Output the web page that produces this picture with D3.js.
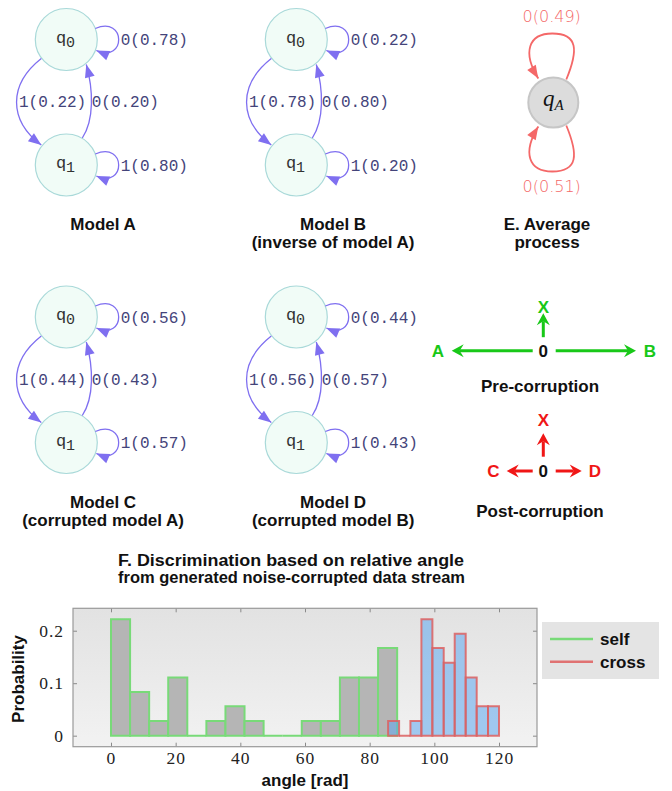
<!DOCTYPE html>
<html>
<head>
<meta charset="utf-8">
<script src="https://cdn.jsdelivr.net/npm/d3@7"></script>
<style>
  body { margin: 0; background: #fff; }
</style>
</head>
<body>
<div id="fig"></div>
<script>
// ---- data ----
const modelNames = ["Model A", "Model B", "Model C", "Model D"];
const modelSubtitles = ["", "(inverse of model A)", "(corrupted model A)", "(corrupted model B)"];
const loop0Labels = ["0(0.78)", "0(0.22)", "0(0.56)", "0(0.44)"];
const edge01Labels = ["1(0.22)", "1(0.78)", "1(0.44)", "1(0.56)"];
const edge10Labels = ["0(0.20)", "0(0.80)", "0(0.43)", "0(0.57)"];
const loop1Labels = ["1(0.80)", "1(0.20)", "1(0.57)", "1(0.43)"];

const avgLoopLabels = ["0(0.49)", "0(0.51)"];

const histTitle = ["F. Discrimination based on relative angle", "from generated noise-corrupted data stream"];
const selfEdges = [0, 5.9, 11.8, 17.7, 23.6, 29.5, 35.4, 41.3, 47.2, 53.1, 59, 64.9, 70.8, 76.7, 82.6, 88.5];
const selfProb = [0.222, 0.083, 0.028, 0.111, 0, 0.028, 0.056, 0.028, 0, 0, 0.028, 0.028, 0.111, 0.111, 0.167];
const crossEdges = [85.7, 89.1, 92.6, 96.0, 99.4, 102.9, 106.3, 109.7, 113.1, 116.6, 120];
const crossProb = [0.028, 0, 0.028, 0.222, 0.167, 0.139, 0.194, 0.111, 0.056, 0.056];
const xTicks = [0, 20, 40, 60, 80, 100, 120];
const yTicks = [0, 0.1, 0.2];
const legendLabels = ["self", "cross"];

const W = 672, H = 791;
const edgeColor = "#7f6ff0";
const labelColor = "#44447a";
const avgColor = "#f46868";
const green = "#18c818";
const red = "#f01616";

const svg = d3
  .select("#fig")
  .append("svg")
  .attr("width", W)
  .attr("height", H)
  .style("font-family", "'Liberation Sans', Arial, sans-serif");

svg.append("rect").attr("width", W).attr("height", H).attr("fill", "#fff");

const defs = svg.append("defs");

function triMarker(id, color) {
  defs
    .append("marker")
    .attr("id", id)
    .attr("viewBox", "-14 -6 15 12")
    .attr("refX", 0)
    .attr("refY", 0)
    .attr("markerWidth", 15)
    .attr("markerHeight", 12)
    .attr("markerUnits", "userSpaceOnUse")
    .attr("orient", "auto")
    .append("path")
    .attr("d", "M-13,-5L0,0L-13,5Z")
    .attr("fill", color);
}
function stealthMarker(id, color) {
  defs
    .append("marker")
    .attr("id", id)
    .attr("viewBox", "-14 -8 15 16")
    .attr("refX", -8)
    .attr("refY", 0)
    .attr("markerWidth", 15)
    .attr("markerHeight", 16)
    .attr("markerUnits", "userSpaceOnUse")
    .attr("orient", "auto")
    .append("path")
    .attr("d", "M0,0L-12,-6.5L-8,0L-12,6.5Z")
    .attr("fill", color);
}
triMarker("arrEdge", edgeColor);
triMarker("arrAvg", avgColor);
stealthMarker("arrGreen", green);
stealthMarker("arrRed", red);

// ---- two-state machines A-D ----
const modelOrigins = [
  [66.3, 39.5],
  [296.3, 39.5],
  [66.3, 317],
  [296.3, 317],
];
const gap = 125.5;
const stateR = 31;

modelNames.forEach((name, i) => {
  const [ox, oy] = modelOrigins[i];
  const g = svg.append("g").attr("transform", "translate(" + ox + "," + oy + ")");

  [0, 1].forEach((s) => {
    g.append("circle")
      .attr("cx", 0)
      .attr("cy", s * gap)
      .attr("r", stateR)
      .attr("fill", "#f1fcf7")
      .attr("stroke", "#a9d9d9")
      .attr("stroke-width", 1.2);
    const t = g
      .append("text")
      .attr("x", -0.8)
      .attr("y", s * gap + 3)
      .attr("text-anchor", "middle")
      .attr("fill", "#333")
      .style("font-family", "'Liberation Mono', 'Courier New', monospace");
    t.append("tspan").style("font-size", "17px").text("q");
    t.append("tspan").attr("dy", 4).style("font-size", "15px").text(s);
  });

  const edges = [
    { d: "M29,-11C60,-24 60,24 30,11", label: loop0Labels[i], lx: 54.4, ly: 5.5 },
    { d: "M29," + (gap - 11) + "C60," + (gap - 24) + " 60," + (gap + 24) + " 30," + (gap + 11), label: loop1Labels[i], lx: 54.4, ly: gap + 5.5 },
    { d: "M-25,19C-58,45 -58," + (gap - 45) + " -25," + (gap - 20), label: edge01Labels[i], lx: -47.3, ly: gap / 2 + 5 },
    { d: "M16," + (gap - 27) + "C28," + (gap - 45) + " 27,50 20,25", label: edge10Labels[i], lx: 25.4, ly: gap / 2 + 5 },
  ];

  g.selectAll("path.edge")
    .data(edges)
    .join("path")
    .attr("class", "edge")
    .attr("d", (e) => e.d)
    .attr("fill", "none")
    .attr("stroke", edgeColor)
    .attr("stroke-width", 1.3)
    .attr("marker-end", "url(#arrEdge)");

  g.selectAll("text.lbl")
    .data(edges)
    .join("text")
    .attr("class", "lbl")
    .attr("x", (e) => e.lx)
    .attr("y", (e) => e.ly)
    .attr("fill", labelColor)
    .style("font-family", "'Liberation Mono', 'Courier New', monospace")
    .style("font-size", "16px")
    .text((e) => e.label);

  [name, modelSubtitles[i]].forEach((line, k) => {
    g.append("text")
      .attr("x", 36.8)
      .attr("y", 190.5 + k * 18)
      .attr("text-anchor", "middle")
      .style("font-size", "17px")
      .style("font-weight", "bold")
      .attr("fill", "#111")
      .text(line);
  });
});

// ---- E. average process ----
const ex = 553.3, ey = 102.5;
const eg = svg.append("g").attr("transform", "translate(" + ex + "," + ey + ")");
const avgLoops = [
  { d: "M13,-23C25,-52 25,-69 -1,-69C-25,-69 -31,-50 -15,-24", label: avgLoopLabels[0], ly: -80.5 },
  { d: "M13,23C25,52 25,69 -1,69C-25,69 -31,50 -15,24", label: avgLoopLabels[1], ly: 89.5 },
];
eg.selectAll("path")
  .data(avgLoops)
  .join("path")
  .attr("d", (l) => l.d)
  .attr("fill", "none")
  .attr("stroke", avgColor)
  .attr("stroke-width", 1.8)
  .attr("marker-end", "url(#arrAvg)");
eg.selectAll("text.lbl")
  .data(avgLoops)
  .join("text")
  .attr("class", "lbl")
  .attr("x", -1.6)
  .attr("y", (l) => l.ly)
  .attr("text-anchor", "middle")
  .attr("fill", avgColor)
  .style("font-family", "'DejaVu Sans', sans-serif")
  .style("font-weight", "300")
  .style("font-size", "16px")
  .text((l) => l.label);
eg.append("circle")
  .attr("r", 25)
  .attr("fill", "#dcdcdc")
  .attr("stroke", "#c6c6c6")
  .attr("stroke-width", 2);
const qa = eg
  .append("text")
  .attr("x", 0)
  .attr("y", 3)
  .attr("text-anchor", "middle")
  .attr("fill", "#111")
  .style("font-family", "'Liberation Serif', 'Times New Roman', serif")
  .style("font-style", "italic");
qa.append("tspan").style("font-size", "23px").text("q");
qa.append("tspan").attr("dy", 4).style("font-size", "15px").text("A");
["E. Average", "process"].forEach((line, k) => {
  svg.append("text")
    .attr("x", 547)
    .attr("y", 229.5 + k * 18)
    .attr("text-anchor", "middle")
    .style("font-size", "17px")
    .style("font-weight", "bold")
    .attr("fill", "#111")
    .text(line);
});

// ---- pre / post corruption symbol maps ----
const symbolPanels = [
  {
    cy: 350.7, color: green, marker: "url(#arrGreen)", title: "Pre-corruption", ty: 391.5,
    arms: [
      { label: "X", x0: 0, y0: -13.5, x1: 0, y1: -29.5, lx: 0, ly: -44 },
      { label: "B", x0: 12.4, y0: 0, x1: 84.7, y1: 0, lx: 106.7, ly: 0 },
      { label: "A", x0: -10.6, y0: 0, x1: -83.6, y1: 0, lx: -105.5, ly: 0 },
    ],
  },
  {
    cy: 471, color: red, marker: "url(#arrRed)", title: "Post-corruption", ty: 517,
    arms: [
      { label: "X", x0: 0, y0: -14.3, x1: 0, y1: -29.7, lx: 0, ly: -51 },
      { label: "D", x0: 12.4, y0: 0, x1: 30.4, y1: 0, lx: 51.7, ly: 0 },
      { label: "C", x0: -10.6, y0: 0, x1: -28.6, y1: 0, lx: -50, ly: 0 },
    ],
  },
];
symbolPanels.forEach((p) => {
  const g = svg.append("g").attr("transform", "translate(543.3," + p.cy + ")");
  g.selectAll("line")
    .data(p.arms)
    .join("line")
    .attr("x1", (a) => a.x0)
    .attr("y1", (a) => a.y0)
    .attr("x2", (a) => a.x1)
    .attr("y2", (a) => a.y1)
    .attr("stroke", p.color)
    .attr("stroke-width", 3)
    .attr("marker-end", p.marker);
  g.selectAll("text.arm")
    .data(p.arms)
    .join("text")
    .attr("class", "arm")
    .attr("x", (a) => a.lx)
    .attr("y", (a) => a.ly + 6.2)
    .attr("text-anchor", "middle")
    .attr("fill", p.color)
    .style("font-size", "17px")
    .style("font-weight", "bold")
    .text((a) => a.label);
  g.append("text")
    .attr("x", 0)
    .attr("y", 6.2)
    .attr("text-anchor", "middle")
    .attr("fill", "#111")
    .style("font-size", "17px")
    .style("font-weight", "bold")
    .text("0");
  svg.append("text")
    .attr("x", 540)
    .attr("y", p.ty)
    .attr("text-anchor", "middle")
    .attr("fill", "#111")
    .style("font-size", "17px")
    .style("font-weight", "bold")
    .text(p.title);
});

// ---- F. histogram ----
const titleWidths = [346, 347];
histTitle.forEach((line, k) => {
  svg.append("text")
    .attr("x", 118)
    .attr("y", 566 + k * 16.5)
    .attr("fill", "#111")
    .attr("textLength", titleWidths[k])
    .attr("lengthAdjust", "spacingAndGlyphs")
    .style("font-size", "16px")
    .style("font-weight", "bold")
    .text(line);
});

const x = d3.scaleLinear().domain([-11.75, 131.75]).range([73, 537]);
const y = d3.scaleLinear().domain([-0.021, 0.2427]).range([746.7, 608.3]);

const grad = defs
  .append("linearGradient")
  .attr("id", "plotBg")
  .attr("x1", 0).attr("y1", 0).attr("x2", 0).attr("y2", 1);
grad.append("stop").attr("offset", 0).attr("stop-color", "#e2e2e2");
grad.append("stop").attr("offset", 1).attr("stop-color", "#f2f2f2");

svg.append("rect")
  .attr("x", x.range()[0])
  .attr("y", y.range()[1])
  .attr("width", x.range()[1] - x.range()[0])
  .attr("height", y.range()[0] - y.range()[1])
  .attr("fill", "url(#plotBg)");

function barPath(b) {
  return "M" + x(b.x0) + "," + y(0) + "V" + y(b.p) + "H" + x(b.x1) + "V" + y(0) + "Z";
}
const selfBars = selfProb.map((p, i) => ({ x0: selfEdges[i], x1: selfEdges[i + 1], p }));
const crossBars = crossProb.map((p, i) => ({ x0: crossEdges[i], x1: crossEdges[i + 1], p }));

svg.append("g")
  .selectAll("path")
  .data(selfBars)
  .join("path")
  .attr("d", barPath)
  .attr("fill", "#b5b5b5")
  .attr("stroke", "#78da78")
  .attr("stroke-width", 2);

svg.append("g")
  .selectAll("path")
  .data(crossBars)
  .join("path")
  .attr("d", barPath)
  .attr("fill", "#5ea8ee")
  .attr("fill-opacity", 0.55)
  .attr("stroke", "#dd6060")
  .attr("stroke-opacity", 0.85)
  .attr("stroke-width", 2);

// axes: inward ticks on all four sides
const axB = svg.append("g")
  .attr("transform", "translate(0," + y.range()[0] + ")")
  .call(d3.axisBottom(x).tickValues(xTicks).tickSize(-4).tickPadding(4.5));
const axT = svg.append("g")
  .attr("transform", "translate(0," + y.range()[1] + ")")
  .call(d3.axisTop(x).tickValues(xTicks).tickSize(-4).tickFormat(""));
const axL = svg.append("g")
  .attr("transform", "translate(" + x.range()[0] + ",0)")
  .call(d3.axisLeft(y).tickValues(yTicks).tickSize(-4).tickPadding(9)
    .tickFormat((d) => (d === 0 ? "0" : d3.format(".1f")(d))));
const axR = svg.append("g")
  .attr("transform", "translate(" + x.range()[1] + ",0)")
  .call(d3.axisRight(y).tickValues(yTicks).tickSize(-4).tickFormat(""));

[axB, axT, axL, axR].forEach((a) => {
  a.select(".domain").remove();
  a.selectAll(".tick line").attr("stroke", "#8a8a8a");
  a.selectAll(".tick text")
    .attr("fill", "#222")
    .style("font-family", "'Liberation Serif', 'Times New Roman', serif")
    .style("font-size", "17.5px")
    .style("letter-spacing", "1px");
});

svg.append("rect")
  .attr("x", x.range()[0])
  .attr("y", y.range()[1])
  .attr("width", x.range()[1] - x.range()[0])
  .attr("height", y.range()[0] - y.range()[1])
  .attr("fill", "none")
  .attr("stroke", "#9a9a9a")
  .attr("stroke-width", 1.2);

svg.append("text")
  .attr("x", 305)
  .attr("y", 786)
  .attr("text-anchor", "middle")
  .attr("fill", "#111")
  .style("font-size", "17px")
  .style("font-weight", "bold")
  .text("angle [rad]");

svg.append("text")
  .attr("transform", "translate(24,679) rotate(-90)")
  .attr("text-anchor", "middle")
  .attr("fill", "#111")
  .style("font-size", "17px")
  .style("font-weight", "bold")
  .text("Probability");

// legend
const legend = svg.append("g").attr("transform", "translate(542,622)");
legend.append("rect").attr("width", 117).attr("height", 57).attr("fill", "#e4e4e4");
const legendColors = ["#78da78", "#e07272"];
legend.selectAll("line")
  .data(legendLabels)
  .join("line")
  .attr("x1", 8)
  .attr("x2", 51)
  .attr("y1", (d, i) => 17 + i * 22.7)
  .attr("y2", (d, i) => 17 + i * 22.7)
  .attr("stroke", (d, i) => legendColors[i])
  .attr("stroke-width", 2.5);
legend.selectAll("text")
  .data(legendLabels)
  .join("text")
  .attr("x", 58)
  .attr("y", (d, i) => 23 + i * 22.7)
  .attr("fill", "#111")
  .style("font-size", "17px")
  .style("font-weight", "bold")
  .text((d) => d);
</script>
</body>
</html>
